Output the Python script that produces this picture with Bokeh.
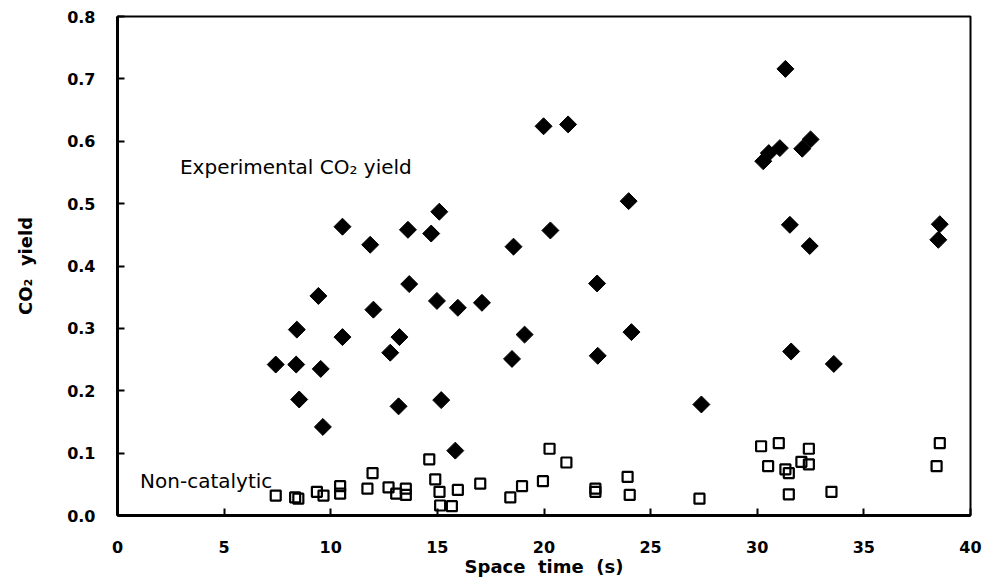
from bokeh.plotting import figure
from bokeh.models import Range1d, SingleIntervalTicker, PrintfTickFormatter, Label, ColumnDataSource
from bokeh.embed import file_html
from bokeh.resources import INLINE

# Experimental CO2 yield (filled diamonds)
exp_time = [7.42, 8.41, 8.38, 8.52, 9.42, 9.53, 9.63, 10.55, 12.00, 12.79,
            13.22, 13.18, 13.68, 14.98, 15.18, 15.96, 17.09, 15.84, 18.50, 19.09,
            10.55, 11.85, 13.62, 14.71, 15.09, 18.57, 19.98, 20.30, 21.13, 23.97,
            22.49, 31.32, 30.28, 30.54, 31.06, 32.11, 32.50, 31.53, 32.46, 38.56,
            38.49, 24.10, 22.52, 27.38, 31.59, 33.59]
exp_yield = [0.242, 0.298, 0.242, 0.186, 0.352, 0.235, 0.142, 0.286, 0.330, 0.261,
             0.286, 0.175, 0.371, 0.344, 0.185, 0.333, 0.341, 0.104, 0.251, 0.290,
             0.463, 0.434, 0.458, 0.452, 0.487, 0.431, 0.624, 0.457, 0.627, 0.504,
             0.372, 0.716, 0.568, 0.581, 0.589, 0.588, 0.603, 0.466, 0.432, 0.467,
             0.442, 0.294, 0.256, 0.178, 0.263, 0.243]

# Non-catalytic yield (open squares)
nc_time = [7.42, 8.33, 8.48, 9.35, 9.66, 10.44, 10.44, 11.96, 11.72, 12.71,
           13.07, 13.52, 13.52, 14.62, 14.90, 15.10, 15.13, 15.68, 15.96, 17.01,
           18.42, 18.97, 19.95, 20.26, 21.05, 22.41, 22.41, 23.92, 24.02, 27.29,
           30.18, 31.01, 30.51, 31.32, 31.48, 31.48, 32.07, 32.42, 32.42, 33.48,
           38.56, 38.41]
nc_yield = [0.032, 0.029, 0.027, 0.038, 0.032, 0.047, 0.035, 0.068, 0.043, 0.045,
            0.035, 0.043, 0.033, 0.090, 0.058, 0.038, 0.016, 0.015, 0.041, 0.051,
            0.029, 0.047, 0.055, 0.107, 0.085, 0.043, 0.038, 0.062, 0.033, 0.027,
            0.111, 0.116, 0.079, 0.074, 0.068, 0.034, 0.086, 0.107, 0.082, 0.038,
            0.116, 0.079]

NB = "\u00a0"
x_title = "Space" + NB * 2 + "time" + NB * 2 + "(s)"
y_title = "CO\u2082" + NB * 2 + "yield"
exp_label = "Experimental CO\u2082" + NB + "yield"
nc_label = "Non-catalytic"

p = figure(width=988, height=586, output_backend="svg", toolbar_location=None,
           x_range=Range1d(0, 40), y_range=Range1d(0, 0.8),
           min_border_left=117, min_border_right=18, min_border_top=16, min_border_bottom=71)

p.grid.visible = False
p.background_fill_color = "white"
p.border_fill_color = "white"
p.outline_line_color = "black"
p.outline_line_width = 2

for ax in (p.xaxis[0], p.yaxis[0]):
    ax.axis_line_width = 3
    ax.axis_line_color = "black"
    ax.major_tick_in = 7
    ax.major_tick_out = 0
    ax.major_tick_line_width = 2
    ax.minor_tick_line_color = None
    ax.major_label_text_font = "DejaVu Sans"
    ax.major_label_text_font_style = "bold"
    ax.major_label_text_font_size = "16px"
    ax.major_label_text_color = "black"
    ax.axis_label_text_font = "DejaVu Sans"
    ax.axis_label_text_font_style = "bold"
    ax.axis_label_text_color = "black"

p.xaxis[0].ticker = SingleIntervalTicker(interval=5)
p.yaxis[0].ticker = SingleIntervalTicker(interval=0.1)
p.yaxis[0].formatter = PrintfTickFormatter(format="%.1f")
p.xaxis[0].axis_label = x_title
p.yaxis[0].axis_label = y_title
p.xaxis[0].axis_label_text_font_size = "18px"
p.yaxis[0].axis_label_text_font_size = "18px"
p.xaxis[0].major_label_standoff = 21
p.yaxis[0].major_label_standoff = 18
p.xaxis[0].axis_label_standoff = 0
p.yaxis[0].axis_label_standoff = 28

src_exp = ColumnDataSource(dict(x=exp_time, y=exp_yield))
src_nc = ColumnDataSource(dict(x=nc_time, y=nc_yield))

p.scatter("x", "y", source=src_nc, marker="square", size=10, fill_color=None,
          line_color="black", line_width=2.2)
p.scatter("x", "y", source=src_exp, marker="square", size=12, angle=0.785398,
          fill_color="black", line_color="black", line_width=1, line_join="round")

p.add_layout(Label(x=2.93, y=0.559, text=exp_label, text_font="DejaVu Sans",
                   text_font_size="20px", text_color="black", text_baseline="alphabetic"))
p.add_layout(Label(x=1.06, y=0.056, text=nc_label, text_font="DejaVu Sans",
                   text_font_size="20px", text_color="black", text_baseline="alphabetic"))

open("out.html", "w").write(file_html(p, INLINE))
